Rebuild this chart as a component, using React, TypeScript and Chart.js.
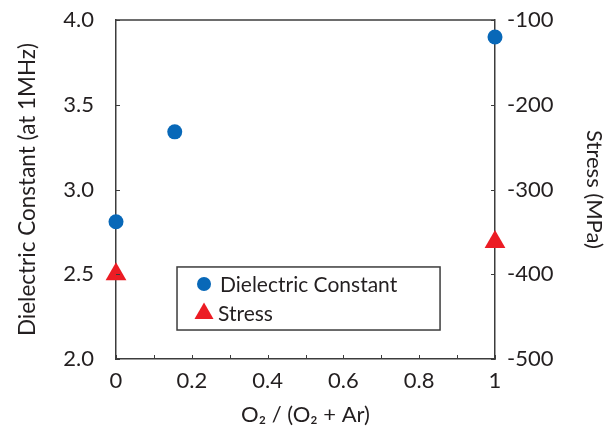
import React, { useEffect, useRef } from 'react';
import { Chart, registerables } from 'chart.js';

Chart.register(...registerables);

// ---- data ----
const dielectricX = [0, 0.155, 1];
const dielectricY = [2.81, 3.34, 3.9];
const stressX = [0, 1];
const stressY = [-400, -362];
const xTickLabels = ['0', '0.2', '0.4', '0.6', '0.8', '1'];
const leftTickLabels = ['2.0', '2.5', '3.0', '3.5', '4.0'];
const rightTickLabels = ['-500', '-400', '-300', '-200', '-100'];
const seriesNames = ['Dielectric Constant', 'Stress'];

const BLUE = '#0868b8';
const RED = '#ec1c24';
const AXIS = '#3c3c3c';
const TEXT = '#231f20';
const FONT = 'Lato';

const inwardTicks = {
  id: 'inwardTicks',
  afterDraw(chart: any) {
    const { ctx, chartArea, scales } = chart;
    const { left, right, top, bottom } = chartArea;
    const len = 4;
    ctx.save();
    ctx.strokeStyle = AXIS;
    ctx.lineWidth = 1;
    ctx.beginPath();
    scales.x.ticks.forEach((t: any) => {
      const px = Math.round(scales.x.getPixelForValue(t.value)) + 0.5;
      ctx.moveTo(px, bottom);
      ctx.lineTo(px, bottom - len);
    });
    scales.y.ticks.forEach((t: any) => {
      const py = Math.round(scales.y.getPixelForValue(t.value)) + 0.5;
      ctx.moveTo(left, py);
      ctx.lineTo(left + len, py);
    });
    scales.y2.ticks.forEach((t: any) => {
      const py = Math.round(scales.y2.getPixelForValue(t.value)) + 0.5;
      ctx.moveTo(right, py);
      ctx.lineTo(right - len, py);
    });
    ctx.stroke();
    ctx.lineWidth = 1.5;
    ctx.beginPath();
    ctx.moveTo(left, top);
    ctx.lineTo(right, top);
    ctx.stroke();
    ctx.restore();
  },
};

const boxLegend = {
  id: 'boxLegend',
  afterDraw(chart: any) {
    const { ctx, scales } = chart;
    const x0 = scales.x.getPixelForValue(0.161);
    const x1 = scales.x.getPixelForValue(0.855);
    const y0 = scales.y.getPixelForValue(2.543);
    const y1 = scales.y.getPixelForValue(2.171);
    ctx.save();
    ctx.fillStyle = '#ffffff';
    ctx.fillRect(x0, y0, x1 - x0, y1 - y0);
    ctx.strokeStyle = AXIS;
    ctx.lineWidth = 1.5;
    ctx.strokeRect(x0, y0, x1 - x0, y1 - y0);
    const mx = x0 + 27;
    const r1 = y0 + (y1 - y0) * 0.27;
    const r2 = y0 + (y1 - y0) * 0.74;
    ctx.fillStyle = BLUE;
    ctx.beginPath();
    ctx.arc(mx, r1, 7, 0, Math.PI * 2);
    ctx.fill();
    ctx.fillStyle = RED;
    ctx.beginPath();
    const tr = 11;
    ctx.moveTo(mx, r2 - tr);
    ctx.lineTo(mx + tr * Math.sqrt(3) / 2, r2 + tr / 2);
    ctx.lineTo(mx - tr * Math.sqrt(3) / 2, r2 + tr / 2);
    ctx.closePath();
    ctx.fill();
    ctx.fillStyle = TEXT;
    ctx.font = `21px ${FONT}`;
    ctx.textBaseline = 'middle';
    ctx.textAlign = 'left';
    ctx.fillText(seriesNames[0], mx + 16, r1 + 1);
    ctx.fillText(seriesNames[1], mx + 14, r2 + 1);
    ctx.restore();
  },
};

const fitVertical = (s: any) => {
  s.width = 116;
  s.paddingTop = 0;
  s.paddingBottom = 0;
};

export default function App() {
  const ref = useRef<HTMLCanvasElement | null>(null);
  useEffect(() => {
    if (!ref.current) return;
    const chart = new Chart(ref.current, {
      type: 'scatter',
      data: {
        datasets: [
          {
            label: seriesNames[0],
            data: dielectricX.map((x, i) => ({ x, y: dielectricY[i] })),
            yAxisID: 'y',
            pointStyle: 'circle',
            pointRadius: 7.5,
            pointBackgroundColor: BLUE,
            pointBorderWidth: 0,
            borderColor: BLUE,
            clip: false,
          } as any,
          {
            label: seriesNames[1],
            data: stressX.map((x, i) => ({ x, y: stressY[i] })),
            yAxisID: 'y2',
            pointStyle: 'triangle',
            pointRadius: 12,
            pointBackgroundColor: RED,
            pointBorderWidth: 0,
            borderColor: RED,
            clip: false,
          } as any,
        ],
      },
      options: {
        animation: false,
        responsive: false,
        layout: { padding: { top: 20, left: 0, right: 0, bottom: 0 } },
        plugins: { legend: { display: false }, tooltip: { enabled: false } },
        scales: {
          x: {
            type: 'linear',
            min: 0,
            max: 1,
            afterFit: (s: any) => { s.height = 71; },
            border: { display: true, color: AXIS, width: 1.5 },
            grid: { display: false, drawTicks: false },
            ticks: {
              stepSize: 0.1,
              autoSkip: false,
              maxRotation: 0,
              padding: 9,
              color: TEXT,
              font: { family: FONT, size: 22 },
              callback: (v: any) => {
                const i = Math.round(Number(v) * 10);
                return i % 2 === 0 ? xTickLabels[i / 2] : '';
              },
            },
            title: {
              display: true,
              text: 'O₂ / (O₂ + Ar)',
              color: TEXT,
              font: { family: FONT, size: 22 },
              padding: { top: 0, bottom: 2 },
            },
          },
          y: {
            type: 'linear',
            position: 'left',
            min: 2,
            max: 4,
            afterFit: fitVertical,
            border: { display: true, color: AXIS, width: 1.5 },
            grid: { display: false, drawTicks: false },
            ticks: {
              stepSize: 0.5,
              padding: 22,
              color: TEXT,
              font: { family: FONT, size: 22 },
              callback: (v: any) => leftTickLabels[Math.round((Number(v) - 2) / 0.5)],
            },
            title: {
              display: true,
              text: 'Dielectric Constant (at 1MHz)',
              color: TEXT,
              font: { family: FONT, size: 22.5 },
              padding: { top: 14, bottom: 0 },
            },
          },
          y2: {
            type: 'linear',
            position: 'right',
            min: -500,
            max: -100,
            afterFit: fitVertical,
            border: { display: true, color: AXIS, width: 1.5 },
            grid: { display: false, drawTicks: false },
            ticks: {
              stepSize: 100,
              padding: 12,
              color: TEXT,
              font: { family: FONT, size: 22 },
              callback: (v: any) => rightTickLabels[Math.round((Number(v) + 500) / 100)],
            },
            title: {
              display: true,
              text: 'Stress (MPa)',
              color: TEXT,
              font: { family: FONT, size: 22 },
              padding: { top: 4, bottom: 0 },
            },
          },
        },
      },
      plugins: [inwardTicks, boxLegend],
    });
    return () => chart.destroy();
  }, []);
  return (
    <div style={{ position: 'fixed', left: 0, top: 0, width: 611, height: 430, background: '#fff' }}>
      <canvas ref={ref} width={611} height={430} />
    </div>
  );
}
